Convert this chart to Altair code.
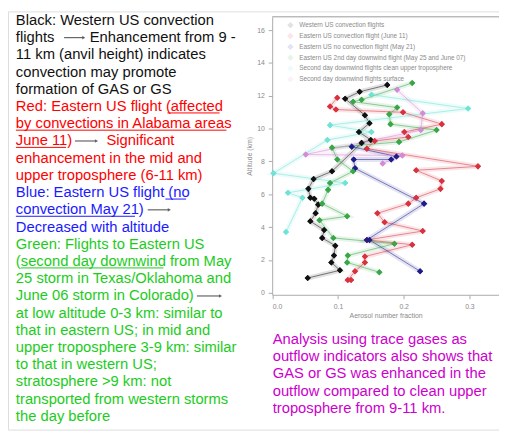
import altair as alt
import pandas as pd

# ---------------- data ----------------
series_names = [
    "Western US convection flights",
    "Eastern US convection flight (June 11)",
    "Eastern US no convection flight (May 21)",
    "Eastern US 2nd day downwind flight (May 25 and June 07)",
    "Second day downwind flights clean upper troposphere",
    "Second day downwind flights surface",
]
series_colors = ["#111111", "#d8333f", "#1c1c8a", "#3aa648", "#6fe3d6", "#d58ad8"]

black_x = [0.175, 0.133, 0.111, 0.141, 0.148, 0.132, 0.150, 0.136, 0.091, 0.063, 0.055, 0.058,
           0.064, 0.070, 0.066, 0.058, 0.079, 0.076, 0.096, 0.094, 0.090, 0.103, 0.054]
black_y = [12.66, 12.24, 11.82, 10.81, 10.33, 9.79, 9.31, 9.13, 7.40, 6.93, 6.33, 5.79,
           5.73, 5.37, 4.84, 4.36, 3.82, 3.34, 2.87, 2.27, 1.85, 1.37, 0.90]

red_x = [0.099, 0.088, 0.097, 0.199, 0.258, 0.201, 0.207, 0.156, 0.144, 0.313, 0.219, 0.258, 0.256,
         0.219, 0.207, 0.160, 0.171, 0.229, 0.144, 0.213, 0.141, 0.141, 0.126, 0.115, 0.120]
red_y = [11.88, 11.34, 11.16, 10.99, 10.27, 9.79, 9.49, 9.25, 8.78, 7.70, 7.46, 6.81, 6.33,
         5.79, 5.43, 4.84, 4.30, 3.76, 3.22, 2.93, 2.21, 1.85, 1.31, 0.78, 0.78]

blue_x = [0.121, 0.189, 0.181, 0.124, 0.126, 0.231, 0.144, 0.148, 0.225]
blue_y = [8.90, 8.30, 8.12, 8.12, 7.58, 5.43, 3.22, 3.22, 1.31]

green_x = [0.213, 0.136, 0.123, 0.190, 0.178, 0.180, 0.250, 0.193, 0.091, 0.099, 0.123,
           0.088, 0.085, 0.076, 0.114, 0.072, 0.093, 0.186, 0.115, 0.114, 0.163]
green_y = [12.78, 11.76, 11.64, 11.28, 10.87, 10.27, 9.91, 9.19, 8.84, 8.12, 7.40,
           6.69, 6.27, 5.43, 4.66, 4.42, 3.34, 2.99, 2.27, 1.85, 1.25]

cyan_x = [0.151, 0.298, 0.088, 0.151, 0.084, 0.002, 0.111, 0.024, 0.046, 0.021]
cyan_y = [12.06, 11.22, 10.21, 9.79, 9.31, 7.28, 6.69, 6.09, 5.79, 3.70]

violet_x = [0.190, 0.229, 0.226, 0.051, 0.198, 0.168]
violet_y = [12.36, 10.93, 9.91, 8.42, 8.36, 7.88]

x_ticks = [0.0, 0.1, 0.2, 0.3]
y_ticks = list(range(0, 17))

# ---------------- tables ----------------
rows = []
for name, hexc, xs_, ys_ in zip(series_names, series_colors,
                                [black_x, red_x, blue_x, green_x, cyan_x, violet_x],
                                [black_y, red_y, blue_y, green_y, cyan_y, violet_y]):
    for i, (a, b) in enumerate(zip(xs_, ys_)):
        rows.append({"series": name, "hex": hexc, "frac": a, "alt": b, "idx": i})
df = pd.DataFrame(rows)

BLACK, RED, BLUE, GREEN, MAG, ARROW = "#111111", "#ff0000", "#1a1aff", "#1ccc1c", "#cc00cc", "#444444"
OX, OY = 8, 8  # page margin

text_segments = [
    (0, 16, "Black: Western US convection", BLACK),
    (1, 16, "flights", BLACK), (1, 91, "Enhancement from 9 -", BLACK),
    (2, 16, "11 km (anvil height) indicates", BLACK),
    (3, 16, "convection may promote", BLACK),
    (4, 16, "formation of GAS or GS", BLACK),
    (5, 16, "Red: Eastern US flight (affected", RED),
    (6, 16, "by convections in Alabama areas", RED),
    (7, 16, "June 11)", RED), (7, 108, "Significant", RED),
    (8, 16, "enhancement in the mid and", RED),
    (9, 16, "upper troposphere (6-11 km)", RED),
    (10, 16, "Blue: Eastern US flight (no", BLUE),
    (11, 16, "convection May 21)", BLUE),
    (12, 16, "Decreased with altitude", BLUE),
    (13, 16, "Green: Flights to Eastern US", GREEN),
    (14, 16, "(second day downwind from May", GREEN),
    (15, 16, "25 storm in Texas/Oklahoma and", GREEN),
    (16, 16, "June 06 storm in Colorado)", GREEN),
    (17, 16, "at low altitude 0-3 km: similar to", GREEN),
    (18, 16, "that in eastern US; in mid and", GREEN),
    (19, 16, "upper troposphere 3-9 km: similar", GREEN),
    (20, 16, "to that in western US;", GREEN),
    (21, 16, "stratosphere >9 km: not", GREEN),
    (22, 16, "transported from western storms", GREEN),
    (23, 16, "the day before", GREEN),
]
underlines = [(5, 170, 223, RED), (6, 16, 230, RED), (7, 16, 67, RED),
              (10, 168, 189, BLUE), (11, 16, 137, BLUE), (14, 21, 166, GREEN)]
arrows = [(1, 65, 87), (7, 76, 100), (11, 150, 174), (16, 200, 226)]
magenta_lines = ["Analysis using trace gases as",
                 "outflow indicators also shows that",
                 "GAS or GS was enhanced in the",
                 "outflow compared to clean upper",
                 "troposphere from 9-11 km."]


def base(i):
    return 21.7 + 17.5 * i - OY


tdf = pd.DataFrame([{"x": x - OX, "y": base(i), "t": t, "c": c} for i, x, t, c in text_segments])
udf = pd.DataFrame([{"x": a - OX, "x2": b - OX, "y": base(i) + 2, "c": c} for i, a, b, c in underlines])
adf = pd.DataFrame([{"x": a - OX, "x2": b - OX - 2, "xh": b - OX - 2, "y": base(i) - 4.5} for i, a, b in arrows])
mdf = pd.DataFrame([{"x": 277 - OX, "y": 346 + 17.5 * i - OY, "t": t} for i, t in enumerate(magenta_lines)])
fdf = pd.DataFrame([{"fx": 268.5, "fx2": 505, "fy": 5.5}])

FONT = "Liberation Sans"
FS = 15
W, H = 499, 425

xs = alt.Scale(domain=[0, 0.345], range=[268.5, 499])
ys = alt.Scale(domain=[-0.12, 16.8], range=[288, 5.6])
cscale = alt.Scale(domain=series_names, range=series_colors)
legend = alt.Legend(title=None, orient="none", legendX=280, legendY=7,
                    labelFontSize=6.5, labelColor="#8a8a8a", symbolSize=42,
                    symbolType="diamond", symbolOpacity=1, symbolStrokeWidth=1,
                    rowPadding=3, labelLimit=300, padding=3, labelOffset=5)

x_enc = alt.X("frac:Q", scale=xs,
              axis=alt.Axis(values=x_ticks, format=".1f", offset=288 - H, grid=False,
                            title="Aerosol number fraction", titleFontSize=7, titleColor="#8a8a8a",
                            titleFontWeight="normal", titlePadding=2,
                            labelFontSize=7, labelColor="#8a8a8a", domainColor="#aaaaaa",
                            tickColor="#aaaaaa", tickSize=4, labelPadding=4))
y_enc = alt.Y("alt:Q", scale=ys,
              axis=alt.Axis(values=y_ticks, offset=-268.5, grid=False, labelOverlap=False,
                            title="Altitude (km)", titleFontSize=7, titleColor="#8a8a8a",
                            titleFontWeight="normal", titlePadding=4,
                            labelFontSize=7, labelColor="#8a8a8a", domainColor="#aaaaaa",
                            tickColor="#aaaaaa", tickSize=4, labelPadding=4))

points = alt.Chart(df).mark_point(filled=True, shape="diamond", size=38, opacity=1).encode(
    x=x_enc, y=y_enc,
    color=alt.Color("series:N", scale=cscale, sort=series_names, legend=legend))
halo = alt.Chart(df).mark_line(strokeWidth=5, opacity=0.12).encode(
    x=alt.X("frac:Q", scale=xs), y=alt.Y("alt:Q", scale=ys), order="idx:Q", detail="series:N",
    color=alt.Color("hex:N", scale=None))
lines = alt.Chart(df).mark_line(strokeWidth=1, opacity=0.55).encode(
    x=alt.X("frac:Q", scale=xs), y=alt.Y("alt:Q", scale=ys), order="idx:Q", detail="series:N",
    color=alt.Color("hex:N", scale=None))
points_top = alt.Chart(df).mark_point(filled=True, shape="diamond", size=38, opacity=0.95).encode(
    x=alt.X("frac:Q", scale=xs), y=alt.Y("alt:Q", scale=ys),
    color=alt.Color("hex:N", scale=None))

frame = alt.Chart(fdf).mark_rule(color="#999999", strokeWidth=1).encode(
    x=alt.X("fx:Q", scale=None), x2="fx2:Q", y=alt.Y("fy:Q", scale=None))

texts = alt.Chart(tdf).mark_text(align="left", baseline="alphabetic", font=FONT, fontSize=FS).encode(
    x=alt.X("x:Q", scale=None), y=alt.Y("y:Q", scale=None), text="t:N",
    color=alt.Color("c:N", scale=None))
ulines = alt.Chart(udf).mark_rule(strokeWidth=1).encode(
    x=alt.X("x:Q", scale=None), x2="x2:Q", y=alt.Y("y:Q", scale=None),
    color=alt.Color("c:N", scale=None))
arrow_lines = alt.Chart(adf).mark_rule(strokeWidth=1, color=ARROW).encode(
    x=alt.X("x:Q", scale=None), x2="x2:Q", y=alt.Y("y:Q", scale=None))
arrow_heads = alt.Chart(adf).mark_point(shape="triangle-right", filled=True, size=14, color=ARROW).encode(
    x=alt.X("xh:Q", scale=None), y=alt.Y("y:Q", scale=None))
mtext = alt.Chart(mdf).mark_text(align="left", baseline="alphabetic", font=FONT, fontSize=FS,
                                 color=MAG).encode(
    x=alt.X("x:Q", scale=None), y=alt.Y("y:Q", scale=None), text="t:N")

data_layer = alt.layer(points, halo, lines, points_top)
chart = alt.layer(data_layer, frame, texts, ulines, arrow_lines, arrow_heads, mtext).resolve_scale(
    x="independent", y="independent").properties(
    width=W, height=H, padding=0, autosize=alt.AutoSizeParams(type="none")
).configure_view(stroke=None).configure(font=FONT, background="white")

chart.save("out.html", embed_options={"renderer": "svg", "actions": False})
